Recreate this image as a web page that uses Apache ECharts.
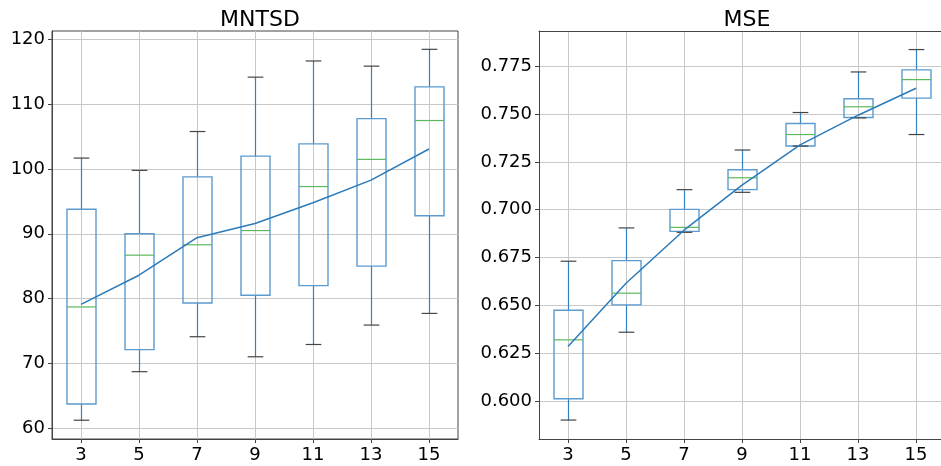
<!DOCTYPE html>
<html>
<head>
<meta charset="utf-8">
<script src="https://cdn.jsdelivr.net/npm/echarts@6/dist/echarts.min.js"></script>
<style>
html,body{margin:0;padding:0;background:#fff;}
#chart{width:941px;height:466px;}
</style>
</head>
<body>
<div id="chart"></div>
<script>
const categories = ['3', '5', '7', '9', '11', '13', '15'];

// MNTSD panel
const mntsdLow  = [61.2, 68.7, 74.1, 71.0, 72.9, 75.9, 77.7];
const mntsdQ1   = [63.7, 72.1, 79.3, 80.5, 82.0, 85.0, 92.8];
const mntsdMed  = [78.7, 86.7, 88.3, 90.5, 97.3, 101.5, 107.5];
const mntsdQ3   = [93.8, 90.0, 98.8, 102.0, 103.9, 107.8, 112.7];
const mntsdHigh = [101.7, 99.8, 105.8, 114.2, 116.7, 115.9, 118.5];
const mntsdMean = [79.1, 83.6, 89.4, 91.6, 94.8, 98.3, 103.1];
const mntsdTicks = [60, 70, 80, 90, 100, 110, 120];

// MSE panel
const mseLow  = [0.5901, 0.6360, 0.6882, 0.7091, 0.7333, 0.7480, 0.7393];
const mseQ1   = [0.6012, 0.6503, 0.6887, 0.7105, 0.7333, 0.7482, 0.7583];
const mseMed  = [0.6320, 0.6564, 0.6908, 0.7167, 0.7393, 0.7538, 0.7680];
const mseQ3   = [0.6475, 0.6734, 0.7002, 0.7209, 0.7451, 0.7580, 0.7731];
const mseHigh = [0.6731, 0.6905, 0.7105, 0.7312, 0.7508, 0.7720, 0.7837];
const mseMean = [0.6285, 0.6616, 0.6893, 0.7129, 0.7339, 0.7494, 0.7635];
const mseTicks = [0.600, 0.625, 0.650, 0.675, 0.700, 0.725, 0.750, 0.775];

const FONT = 'DejaVu Sans';
const boxColor = '#5b9bd0';
const whiskerColor = '#3580c0';
const medianColor = '#5cb85c';
const capColor = '#444';
const meanColor = '#2b7bba';
const gridColor = '#c8c8c8';
const spineColor = '#444';

const catPositions = categories.map((c, i) => i);

function boxData(low, q1, med, q3, high) {
  return low.map((v, i) => [i, v, q1[i], med[i], q3[i], high[i]]);
}
function lineData(vals) {
  return vals.map((v, i) => [i, v]);
}

function renderBox(params, api) {
  const i = api.value(0);
  const pLow = api.coord([i, api.value(1)]);
  const pQ1 = api.coord([i, api.value(2)]);
  const pMed = api.coord([i, api.value(3)]);
  const pQ3 = api.coord([i, api.value(4)]);
  const pHigh = api.coord([i, api.value(5)]);
  const band = api.size([1, 0])[0];
  const cx = Math.round(pLow[0]) + 0.5;
  const bw = band * 0.5;
  const cw = band * 0.27;
  return {
    type: 'group',
    children: [
      { type: 'line', shape: { x1: cx, y1: pLow[1], x2: cx, y2: pQ1[1] }, style: { stroke: whiskerColor, lineWidth: 1.2 } },
      { type: 'line', shape: { x1: cx, y1: pQ3[1], x2: cx, y2: pHigh[1] }, style: { stroke: whiskerColor, lineWidth: 1.2 } },
      { type: 'rect', shape: { x: cx - bw / 2, y: pQ3[1], width: bw, height: pQ1[1] - pQ3[1] }, style: { fill: 'none', stroke: boxColor, lineWidth: 1.4 } },
      { type: 'line', shape: { x1: cx - bw / 2, y1: pMed[1], x2: cx + bw / 2, y2: pMed[1] }, style: { stroke: medianColor, lineWidth: 1.2 } },
      { type: 'line', shape: { x1: cx - cw / 2, y1: pLow[1], x2: cx + cw / 2, y2: pLow[1] }, style: { stroke: capColor, lineWidth: 1.2 } },
      { type: 'line', shape: { x1: cx - cw / 2, y1: pHigh[1], x2: cx + cw / 2, y2: pHigh[1] }, style: { stroke: capColor, lineWidth: 1.2 } }
    ]
  };
}

function xAxisDef(gridIndex, max) {
  return {
    type: 'value', gridIndex: gridIndex, min: -0.5, max: max,
    axisLine: { show: true, onZero: false, lineStyle: { color: spineColor, width: 1 } },
    axisTick: { show: true, length: 4, customValues: catPositions, lineStyle: { color: spineColor } },
    axisLabel: { color: '#000', fontSize: 18, fontFamily: FONT, margin: 7, customValues: catPositions,
                 formatter: v => categories[Math.round(v)] },
    splitLine: { show: true, lineStyle: { color: gridColor, width: 1 } }
  };
}
function topSpine(gridIndex, max) {
  return {
    type: 'value', gridIndex: gridIndex, position: 'top', min: -0.5, max: max,
    axisLine: { show: true, onZero: false, lineStyle: { color: spineColor, width: 1 } },
    axisTick: { show: false }, axisLabel: { show: false }, splitLine: { show: false }
  };
}

function yAxisDef(gridIndex, min, max, ticks, fmt) {
  return {
    type: 'value', gridIndex: gridIndex, min: min, max: max,
    axisLine: { show: true, onZero: false, lineStyle: { color: spineColor, width: 1 } },
    axisTick: { show: true, length: 4, customValues: ticks, lineStyle: { color: spineColor } },
    axisLabel: { color: '#000', fontSize: 18, fontFamily: FONT, margin: 7, customValues: ticks, formatter: fmt },
    splitLine: { show: true, lineStyle: { color: gridColor, width: 1 } }
  };
}

const chart = echarts.init(document.getElementById('chart'), null, { renderer: 'canvas' });
chart.setOption({
  animation: false,
  backgroundColor: '#fff',
  title: [
    { text: 'MNTSD', left: 255, top: 4, textAlign: 'center', textStyle: { fontSize: 22, fontWeight: 'normal', color: '#000', fontFamily: FONT } },
    { text: 'MSE', left: 742, top: 4, textAlign: 'center', textStyle: { fontSize: 22, fontWeight: 'normal', color: '#000', fontFamily: FONT } }
  ],
  grid: [
    { left: 52, top: 31, width: 406, height: 408, show: true, borderColor: spineColor, borderWidth: 1, backgroundColor: 'transparent' },
    { left: 539, top: 31, width: 402, height: 408, show: false }
  ],
  xAxis: [xAxisDef(0, 6.5), xAxisDef(1, 6.43), topSpine(1, 6.43)],
  yAxis: [
    yAxisDef(0, 58.3, 121.33, mntsdTicks, v => String(Math.round(v))),
    yAxisDef(1, 0.5802, 0.7934, mseTicks, v => v.toFixed(3))
  ],
  series: [
    { type: 'custom', xAxisIndex: 0, yAxisIndex: 0, renderItem: renderBox, encode: { x: 0, y: [1, 2, 3, 4, 5] }, data: boxData(mntsdLow, mntsdQ1, mntsdMed, mntsdQ3, mntsdHigh), z: 2 },
    { type: 'line', xAxisIndex: 0, yAxisIndex: 0, data: lineData(mntsdMean), showSymbol: false, symbol: 'none', lineStyle: { color: meanColor, width: 1.5 }, z: 3 },
    { type: 'custom', xAxisIndex: 1, yAxisIndex: 1, renderItem: renderBox, encode: { x: 0, y: [1, 2, 3, 4, 5] }, data: boxData(mseLow, mseQ1, mseMed, mseQ3, mseHigh), z: 2 },
    { type: 'line', xAxisIndex: 1, yAxisIndex: 1, data: lineData(mseMean), showSymbol: false, symbol: 'none', lineStyle: { color: meanColor, width: 1.5 }, z: 3 }
  ]
});
</script>
</body>
</html>
